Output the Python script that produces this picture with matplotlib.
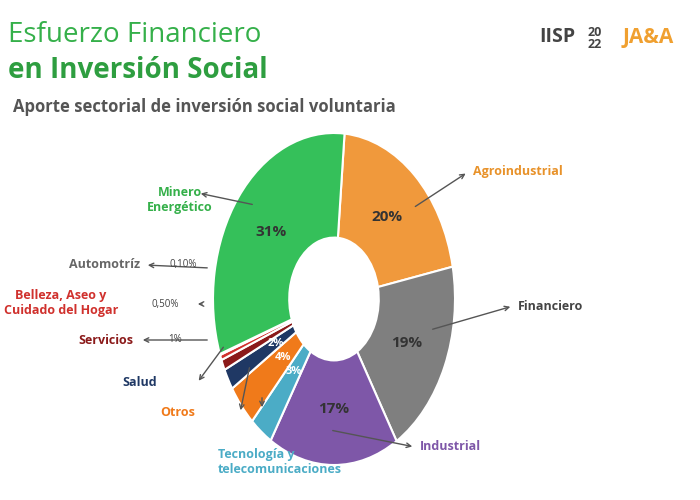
import matplotlib as mpl
mpl.rcParams['font.family'] = 'Open Sans'
import matplotlib.pyplot as plt
import numpy as np

# sectores en orden horario desde arriba
sectores = ['Agroindustrial', 'Financiero', 'Industrial', 'Tecnología y\ntelecomunicaciones',
            'Otros', 'Salud', 'Servicios', 'Belleza, Aseo y\nCuidado del Hogar', 'Automotríz',
            'Minero\nEnergético']
valores = [20, 19, 17, 3, 4, 2, 1, 0.5, 0.1, 31]
etiquetas = ['20%', '19%', '17%', '3%', '4%', '2%', '', '', '', '31%']
colores = ['#F0993C', '#7F7F7F', '#7E57A8', '#4BACC6', '#F07A1A', '#1F3864',
           '#8B1A1A', '#D0312D', '#A0A0A0', '#35C05A']

W, H = 700, 500
fig = plt.figure(figsize=(7, 5), dpi=100)
fig.text(0.012, 0.915, 'Esfuerzo Financiero', fontsize=20, color='#35B04A')
fig.text(0.012, 0.845, 'en Inversión Social', fontsize=20, color='#2E9E40', weight='bold')
fig.text(0.018, 0.775, 'Aporte sectorial de inversión social voluntaria', fontsize=12,
         color='#555555', weight='bold')
fig.text(0.77, 0.915, 'IISP', fontsize=14, color='#444444', weight='bold')
fig.text(0.84, 0.905, '20\n22', fontsize=9, color='#444444', weight='bold', linespacing=0.9)
fig.text(0.89, 0.915, 'JA&A', fontsize=15, color='#F0A030', weight='bold')

ax = fig.add_axes([213 / W, 1 - 465 / H, 242 / W, 332 / H])
wedges, _ = ax.pie(valores, colors=colores, startangle=85, counterclock=False,
                   radius=1, wedgeprops=dict(width=0.63, edgecolor='white', linewidth=1.5))
for w, e in zip(wedges, etiquetas):
    if not e:
        continue
    ang = np.deg2rad((w.theta1 + w.theta2) / 2)
    r = 0.66 if len(e) == 3 else 0.55
    fs = 11 if len(e) == 3 else 8
    ax.text(r * np.cos(ang), r * np.sin(ang), e, ha='center', va='center',
            fontsize=fs, weight='bold', color='#333333' if len(e) == 3 else 'white')
ax.set_aspect('auto')
ax.set_xlim(-1, 1)
ax.set_ylim(-1, 1)

txtcol = ['#E8922A', '#444444', '#7E57A8', '#4BACC6', '#F07A1A', '#1F3864',
          '#8B1A1A', '#D0312D', '#666666', '#35B04A']
# posicion de texto (px), punta de la flecha (px), alineacion
pos = [(473, 172, 'left'), (518, 306, 'left'), (420, 447, 'left'),
       (218, 462, 'left'), (195, 413, 'right'), (157, 383, 'right'),
       (133, 340, 'right'), (118, 303, 'right'), (140, 265, 'right'),
       (213, 200, 'right')]
flechas = [((413, 208), (468, 172)), ((430, 330), (513, 306)), ((330, 430), (415, 447)),
           ((262, 395), (262, 410)), ((250, 365), (240, 413)), ((225, 345), (197, 383)),
           ((210, 340), (140, 340)), ((205, 304), (195, 304)), ((210, 268), (145, 265)),
           ((255, 205), (198, 193))]
for s, c, (x, y, ha), (p, q) in zip(sectores, txtcol, pos, flechas):
    fig.text(x / W, 1 - y / H, s, fontsize=9, color=c, ha=ha, va='center', weight='bold',
             multialignment='center' if ha == 'right' else 'left')
    fig.add_artist(mpl.patches.FancyArrowPatch((q[0] / W, 1 - q[1] / H), (p[0] / W, 1 - p[1] / H),
                   transform=fig.transFigure, arrowstyle='<-', mutation_scale=8,
                   color='#555555', lw=1))
fig.text(170 / W, 1 - 265 / H, '0,10%', fontsize=7, color='#444444', va='center')
fig.text(152 / W, 1 - 304 / H, '0,50%', fontsize=7, color='#444444', va='center')
fig.text(168 / W, 1 - 340 / H, '1%', fontsize=7, color='#444444', va='center')
plt.savefig('out.png')
